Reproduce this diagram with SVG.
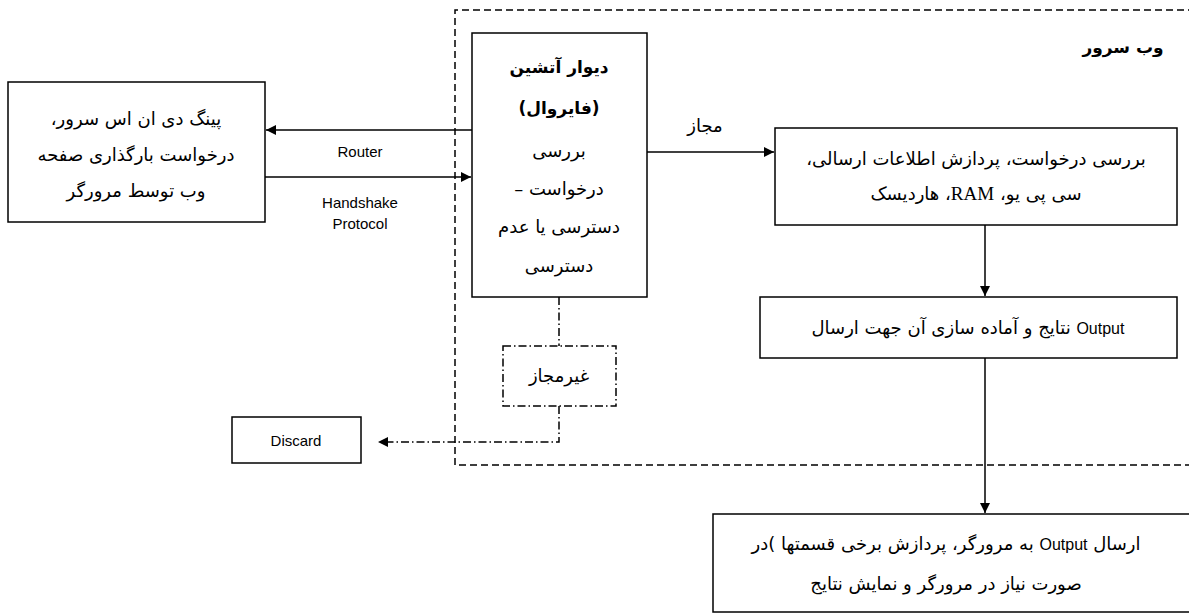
<svg xmlns="http://www.w3.org/2000/svg" width="1189" height="614" viewBox="0 0 1189 614">
<style>
.box{fill:#fff;stroke:#000;stroke-width:1.5}
.ln{fill:none;stroke:#000;stroke-width:1.5}
.dd{fill:none;stroke:#000;stroke-width:1.5;stroke-dasharray:8,3,1.5,3}
.fa{font-family:"DejaVu Sans","Noto Sans",sans-serif;font-size:18px;fill:#000;text-anchor:middle;direction:rtl;unicode-bidi:embed}
.en{font-family:"Liberation Sans",Arial,sans-serif;font-size:15px;fill:#000;text-anchor:middle}
.b{font-weight:bold;font-size:17px}
.rm{font-family:"Liberation Serif","Times New Roman",serif;font-size:19px}
.op{font-family:"Liberation Sans",Arial,sans-serif;font-size:16px}
</style>
<defs>
<marker id="ah" viewBox="0 0 10 10" refX="10" refY="5" markerWidth="10" markerHeight="10" markerUnits="userSpaceOnUse" orient="auto">
<path d="M0,0 L10,5 L0,10 z" fill="#000"/>
</marker>
</defs>
<rect width="1189" height="614" fill="#fff"/>
<g id="webserver">
<path d="M1195,10 L455,10 L455,465 L1195,465" fill="none" stroke="#000" stroke-width="1.5" stroke-dasharray="7,4"/>
<text class="fa b" x="1123" y="53">وب سرور</text>
</g>
<g id="connectors">
<line class="ln" x1="472" y1="130" x2="266" y2="130" marker-end="url(#ah)"/>
<line class="ln" x1="265" y1="177" x2="471" y2="177" marker-end="url(#ah)"/>
<line class="ln" x1="647" y1="152" x2="774" y2="152" marker-end="url(#ah)"/>
<line class="ln" x1="985" y1="225" x2="985" y2="296" marker-end="url(#ah)"/>
<line class="ln" x1="985" y1="358" x2="985" y2="513" marker-end="url(#ah)"/>
<line class="dd" x1="559" y1="297" x2="559" y2="346"/>
<polyline class="dd" points="559,406 559,442 378,442" marker-end="url(#ah)"/>
<text class="en" x="360" y="157">Router</text>
<text class="en" x="360" y="208">Handshake</text>
<text class="en" x="360" y="229">Protocol</text>
<text class="fa" x="705" y="132">مجاز</text>
</g>
<g id="client">
<rect class="box" x="8" y="82" width="257" height="140"/>
<text class="fa" x="136" y="125">پینگ دی ان اس سرور،</text>
<text class="fa" x="136" y="161">درخواست بارگذاری صفحه</text>
<text class="fa" x="136" y="197">وب توسط مرورگر</text>
</g>
<g id="firewall">
<rect class="box" x="472" y="33" width="175" height="264"/>
<text class="fa b" x="559" y="73">دیوار آتشین</text>
<text class="fa b" x="559" y="114">(فایروال)</text>
<text class="fa" x="559" y="157">بررسی</text>
<text class="fa" x="559" y="195">درخواست –</text>
<text class="fa" x="559" y="233">دسترسی یا عدم</text>
<text class="fa" x="559" y="272">دسترسی</text>
</g>
<g id="process">
<rect class="box" x="775" y="128" width="402" height="97"/>
<text class="fa" x="976" y="165">بررسی درخواست، پردازش اطلاعات ارسالی،</text>
<text class="fa" x="976" y="200">سی پی یو، <tspan class="rm">RAM</tspan>، هاردیسک</text>
</g>
<g id="output">
<rect class="box" x="760" y="297" width="417" height="61"/>
<text class="fa" x="968" y="334"><tspan class="op">Output</tspan> نتایج و آماده سازی آن جهت ارسال</text>
</g>
<g id="send">
<rect class="box" x="713" y="514" width="490" height="98"/>
<text class="fa" x="946" y="550">ارسال <tspan class="op">Output</tspan> به مرورگر، پردازش برخی قسمتها )در</text>
<text class="fa" x="946" y="590">صورت نیاز در مرورگر و نمایش نتایج</text>
</g>
<g id="notallowed">
<rect x="503" y="346" width="113" height="60" fill="#fff" stroke="#000" stroke-width="1.5" stroke-dasharray="8,3,1.5,3"/>
<text class="fa" x="559" y="382">غیرمجاز</text>
</g>
<g id="discard">
<rect class="box" x="232" y="417" width="129" height="46"/>
<text class="en" x="296" y="446">Discard</text>
</g>
</svg>
